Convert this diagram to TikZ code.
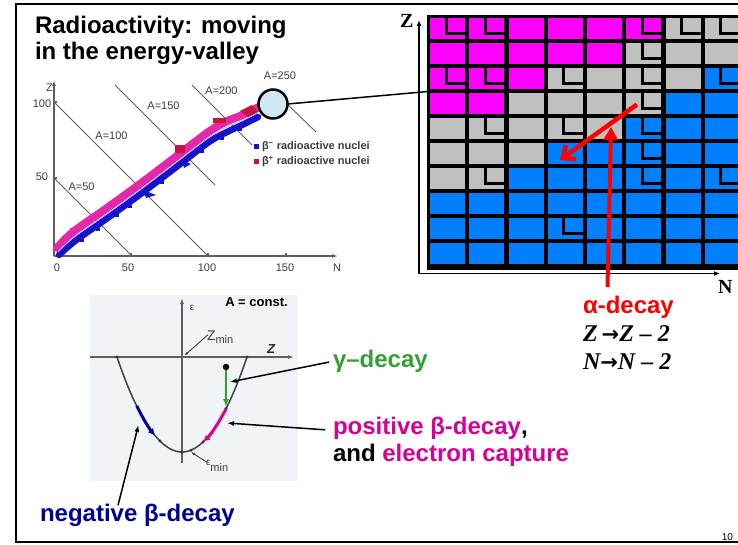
\documentclass[tikz,border=0pt]{standalone}
\usepackage{fontspec}
\setmainfont{Liberation Sans}
\newfontfamily\tms{Liberation Serif}
\newfontfamily\djv{DejaVu Sans}
\usetikzlibrary{arrows.meta}
\definecolor{mg}{RGB}{255,0,255}
\definecolor{gr}{RGB}{192,192,192}
\definecolor{bl}{RGB}{0,128,255}
\definecolor{gdecay}{RGB}{51,160,51}
\definecolor{pdecay}{RGB}{214,0,150}
\definecolor{ndecay}{RGB}{0,0,153}
\definecolor{bandm}{RGB}{228,40,170}
\definecolor{bandb}{RGB}{20,20,200}
\definecolor{bandr}{RGB}{200,20,60}
\definecolor{panel}{RGB}{241,244,247}
\definecolor{axg}{RGB}{95,95,95}
\definecolor{txg}{RGB}{60,60,60}
\definecolor{zoomfill}{RGB}{205,232,242}
\definecolor{pm}{RGB}{225,110,170}
\definecolor{pb}{RGB}{140,140,225}
\begin{document}
\begin{tikzpicture}[x=1pt,y=-1pt,
  every node/.style={inner sep=0pt, outer sep=0pt},
  bigl/.style={font=\fontsize{24}{26}\selectfont\bfseries, anchor=base west},
  serl/.style={font=\fontsize{24}{26}\selectfont\tms\bfseries\itshape, anchor=base west},
  small/.style={font=\fontsize{11}{11}\selectfont, text=txg},
  aline/.style={axg, line width=0.9pt},
  chax/.style={axg, line width=1.2pt},
  cellbox/.style={rectangle, minimum width=35pt, minimum height=21.5pt},
  Lmark/.style={path picture={\draw[black, line width=3pt, line join=miter]
     ([xshift=-1.5pt]path picture bounding box.north) --
     ([xshift=-1.5pt,yshift=6pt]path picture bounding box.south) --
     ([yshift=6pt]path picture bounding box.south east);}},
  kM/.style={fill=mg}, km/.style={fill=mg, Lmark},
  kG/.style={fill=gr}, kg/.style={fill=gr, Lmark},
  kB/.style={fill=bl}, kb/.style={fill=bl, Lmark},
  ptr/.style={black, line width=1.5pt, -{Latex[length=7pt,width=5pt]}},
  dotm/.style={circle, fill=black!80, minimum size=3.2pt}
]
\useasboundingbox (0,0) rectangle (738,545);
\fill[white] (0,0) rectangle (738,545);
% slide frame
\draw[line width=2.5pt] (745,4) -- (16,4) -- (16,542) -- (745,542);
% title
\node[bigl] (title1) at (35,33.3) {Radioactivity: moving};
\node[bigl] (title2) at (35,59.3) {in the energy-valley};

% ---------------- nuclide chart (left) ----------------
\coordinate (co) at (54,256);
\coordinate (cz) at (54,80);
\coordinate (cn) at (338,256);
\draw[chax, -{Latex[length=6pt,width=4pt]}] (co) -- (cz);
\draw[chax, -{Latex[length=6pt,width=4pt]}] (co) -- (cn);
\foreach \xx in {131,208,286} \draw[chax] (\xx,256) -- (\xx,253);
\foreach \yy in {178,102} \draw[chax] (54,\yy) -- (57,\yy);
\node[small] (cZ) at (49.5,88) {Z};
\node[small] (c100) at (42,103.5) {100};
\node[small] (c50) at (42,177) {50};
\node[small] (cx0) at (57,268) {0};
\node[small] (cx50) at (128,268) {50};
\node[small] (cx100) at (207,268) {100};
\node[small] (cx150) at (285,268) {150};
\node[small] (cxN) at (337,268) {N};
% A = const lines
\draw[aline] (54,178) -- (131,255);
\draw[aline] (54,102) -- (207,255);
\draw[aline] (115,85) -- (215,185);
\draw[aline] (192,85) -- (252,145);
\draw[aline] (285,102) -- (316,132);
\node[small] (a50) at (81.5,186.5) {A=50};
\node[small] (a100) at (111.5,136) {A=100};
\node[small] (a150) at (163.5,106) {A=150};
\node[small] (a200) at (221.5,91) {A=200};
\node[small] (a250) at (280,76) {A=250};
% band of radioactive nuclei
\draw[bandm, line width=8pt, line join=round, line cap=round]
  plot[smooth] coordinates {(57,248) (73,232) (107,208) (140,184) (173,159) (207,133) (225,122) (240,116) (257,108) (268,101)};
\draw[bandb, line width=6.5pt, line join=round, line cap=round]
  plot[smooth] coordinates {(59,255) (75,241) (109,217) (142,193) (175,168) (209,142) (227,132) (242,125) (258,117)};
\draw[white!70!blue, line width=1pt]
  plot[smooth] coordinates {(58,252) (74,237) (108,213) (141,189) (174,164) (208,138) (226,127) (241,121) (257,113)};
\foreach \bx/\by in {70/228,88/216,101/207,118/196,131/186,152/172,163/163,196/140,233/116}
  \fill[bandm] (\bx,\by) rectangle ++(4,3);
\foreach \bx/\by in {80/239,96/228,115/214,128/205,160/181,200/150,220/137.5,238/128.5}
  \fill[bandb] (\bx,\by) rectangle ++(4,3);
\fill[bandr] (175,145) rectangle (185,153);
\fill[bandr] (213,118) rectangle (226,123);
\fill[bandr] (240,111) -- (252,105) -- (258,112) -- (248,117) -- cycle;
\fill[bandb] (143,190) -- (156,195) -- (146,198) -- cycle;
\fill[bandb] (182,160) -- (191,164) -- (184,168) -- cycle;
% legend
\node[fill=bandb, minimum size=5pt] (lsq1) at (256.5,147) {};
\node[fill=bandr, minimum size=5pt] (lsq2) at (256.5,161.5) {};
\node[font=\fontsize{11}{11}\selectfont\bfseries, text=txg, anchor=west] (lt1) at (262,147) {β\textsuperscript{−} radioactive nuclei};
\node[font=\fontsize{11}{11}\selectfont\bfseries, text=txg, anchor=west] (lt2) at (262,161.5) {β\textsuperscript{+} radioactive nuclei};
% magnifier circle
\node[circle, draw=black, line width=2.5pt, minimum size=29pt, fill=zoomfill,
  path picture={\foreach \dx/\dy/\cc in {-11/8/pm,-8/5/pb,-5/3/pm,-2/0/pb,1/-2/pm,4/-5/pb,7/-8/pm,-9/1/pm,-6/-2/pb,-3/-5/pm,0/-8/pb,-12/3/pb,2/3/pm,5/0/pm,8/-3/pb,-4/8/pb,-1/6/pm}
     \fill[\cc] ({273+\dx},{104+\dy}) rectangle ++(2.6,2.6);}] (zoomc) at (273,104) {};

% ---------------- zoomed grid (right) ----------------
\fill[black] (426.5,14.8) rectangle (745,269.5);
\foreach \rowlist [count=\r from 0] in {{m,m,M,M,M,m,g,g},{M,M,M,M,M,g,G,G},{m,m,M,g,G,g,G,b},{M,M,G,G,G,g,B,B},{G,g,G,g,G,b,B,B},{G,G,G,B,B,b,B,B},{G,g,B,B,B,b,B,b},{B,B,B,B,B,B,B,B},{B,B,B,b,B,B,B,B},{B,B,B,B,B,B,B,B}}{
  \foreach \c [count=\k from 0] in \rowlist {
    \node[cellbox, k\c] (cell-\r-\k) at ({447.5+39.25*\k},{28.3+25*\r}) {};
  }
}
\coordinate (gO) at (419,273.5);
\coordinate (gZ) at (419,20);
\coordinate (gN) at (720,273.5);
\draw[black, line width=1.3pt, -{Latex[length=6pt,width=5pt]}] (gO) -- (gZ);
\draw[black, line width=1.3pt, -{Latex[length=6pt,width=5pt]}] (gO) -- (gN);
\node[font=\fontsize{20}{20}\selectfont\tms\bfseries, anchor=base west] (gZl) at (400,28) {Z};
\node[font=\fontsize{20}{20}\selectfont\tms\bfseries, anchor=base west] (gNl) at (718,293) {N};
% link from magnifier to grid
\coordinate (glink) at (428,91.5);
\draw[black, line width=1.5pt] (zoomc.east) -- (glink);
% red arrows
\coordinate (ra1) at (637,104.5);
\coordinate (ra2) at (560,160);
\coordinate (rv1) at (607.5,287);
\coordinate (rv2) at (611,127);
\draw[red, line width=4.5pt, -{Straight Barb[length=10pt,width=17pt]}] (ra1) -- (ra2);
\draw[red, line width=4pt, -{Triangle[length=13pt,width=14pt]}] (rv1) -- (rv2);

% alpha decay labels
\node[bigl, text=red] (alab) at (583,313.3) {α-decay};
\node[serl] (zlab) at (583,341.7) {Z\,{\djv\upshape\fontsize{21}{21}\selectfont →}Z – 2};
\node[serl] (nlab) at (583,369.3) {N{\djv\upshape\fontsize{21}{21}\selectfont →}N – 2};

% ---------------- energy parabola panel ----------------
\fill[panel] (90,295) rectangle (298,481);
\coordinate (pO) at (182,357);
\coordinate (pEb) at (182,463);
\coordinate (pEt) at (182,298);
\coordinate (pZl) at (90,357);
\coordinate (pZr) at (294,357);
\draw[chax, -{Latex[length=6pt,width=4pt]}] (pEb) -- (pEt);
\draw[chax, -{Latex[length=6pt,width=4pt]}] (pZl) -- (pZr);
\draw[black!75, line width=1.5pt] (117,357) parabola bend (182,452) (247,357);
\foreach \px/\py in {117/357,247/357,182/452,137/406.4,160/441,226/408.4,203/442,191/450.2}
  \node[dotm] at (\px,\py) {};
\node[font=\fontsize{10}{10}\selectfont, text=txg] (epsl) at (192,308) {ε};
\node[font=\fontsize{13}{13}\selectfont\bfseries, text=black] (aconst) at (256.5,302.5) {A = const.};
\node[font=\fontsize{13}{13}\selectfont\bfseries\itshape, text=black!85] (pZlab) at (271,349) {Z};
\node[font=\fontsize{14}{14}\selectfont, text=txg, anchor=base west] (zmin) at (207,340) {Z\raisebox{-3pt}{\fontsize{11}{11}\selectfont min}};
\node[font=\fontsize{10}{10}\selectfont, text=txg, anchor=base west] (emin) at (206,465) {ε\raisebox{-6pt}{\fontsize{11}{11}\selectfont min}};
\coordinate (zminpt) at (184.5,355.5);
\coordinate (eminpt) at (191,452);
\draw[txg, line width=0.9pt, -{Latex[length=4pt,width=3pt]}] ([xshift=1pt,yshift=2pt]zmin.west) -- (zminpt);
\draw[txg, line width=0.9pt, -{Latex[length=4pt,width=3pt]}] ([xshift=1pt,yshift=3pt]emin.west) -- (eminpt);
% decay arrows on the parabola
\node[circle, fill=black, minimum size=6.5pt] (gdot) at (226,367) {};
\coordinate (gend) at (226,407);
\draw[gdecay, line width=1.8pt, -{Latex[length=8pt,width=6pt]}] (gdot) -- (gend);
\coordinate (ps) at (226,409);
\coordinate (pe) at (203,442);
\draw[pdecay, line width=3pt, -{Latex[length=7pt,width=7pt]}] (ps) .. controls (218.3,423.6) and (210.7,434.8) .. (pe);
\coordinate (ns) at (137,406.4);
\coordinate (ne) at (155,435.6);
\draw[ndecay, line width=3pt, -{Latex[length=7pt,width=7pt]}] (ns) .. controls (143,418.6) and (149,428.3) .. (ne);

% decay labels
\node[bigl, text=gdecay] (glab) at (333,367.3) {γ–decay};
\node[bigl, text=pdecay] (plab1) at (333,434) {positive β-decay\textcolor{black}{,}};
\node[bigl] (plab2) at (333,461.7) {and \textcolor{pdecay}{electron capture}};
\node[bigl, text=ndecay] (nlab2) at (40,521.7) {negative β-decay};
\coordinate (gtar) at (230,382);
\coordinate (ptar) at (227,423);
\coordinate (ntar) at (138.5,425);
\draw[ptr] ([xshift=-4pt,yshift=-1pt]glab.west) -- (gtar);
\draw[ptr] ([xshift=-8pt,yshift=-2pt]plab1.west) -- (ptar);
\draw[ptr] ([xshift=78pt,yshift=-1pt]nlab2.north west) -- (ntar);

% page number
\node[font=\fontsize{10}{10}\selectfont, anchor=base east] (pnum) at (733,540) {10};
\end{tikzpicture}
\end{document}
